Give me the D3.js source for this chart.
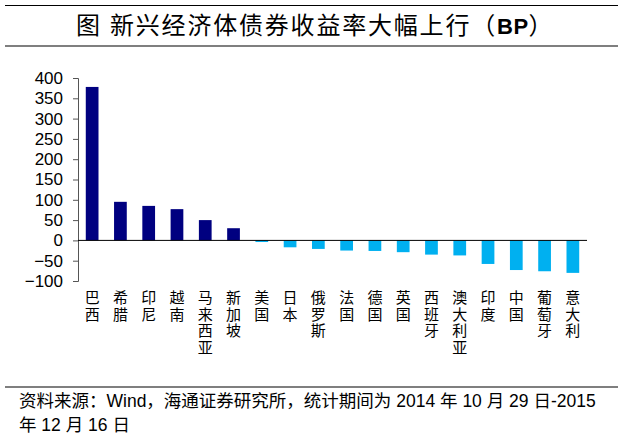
<!DOCTYPE html>
<html>
<head>
<meta charset="utf-8">
<script src="https://cdn.jsdelivr.net/npm/d3@7"></script>
<style>
  html, body { margin: 0; padding: 0; background: #fff; }
  svg { display: block; }
</style>
</head>
<body>
<svg id="chart" width="625" height="437"></svg>
<script>
const titleLead = "图";
const titleMain = "新兴经济体债券收益率大幅上行（";
const titleUnit = "BP";
const titleTail = "）";
const categories = ["巴西","希腊","印尼","越南","马来西亚","新加坡","美国","日本","俄罗斯","法国","德国","英国","西班牙","澳大利亚","印度","中国","葡萄牙","意大利"];
const values = [378, 95, 85, 77, 50, 30, -4, -17, -21, -25, -26, -29, -35, -37, -58, -73, -76, -80];
const yTicks = [-100, -50, 0, 50, 100, 150, 200, 250, 300, 350, 400];
const footLine1 = "资料来源：Wind，海通证券研究所，统计期间为 2014 年 10 月 29 日-2015";
const footLine2 = "年 12 月 16 日";

const svg = d3.select("#chart");
const FONT = "'Liberation Sans', Arial, 'Noto Sans CJK SC', sans-serif";
const CJK = "'Noto Sans CJK SC', 'Liberation Sans', sans-serif";

// Title rules
svg.append("line").attr("x1", 5).attr("x2", 618).attr("y1", 5.5).attr("y2", 5.5)
  .attr("stroke", "#000").attr("stroke-width", 1.2);
svg.append("line").attr("x1", 5).attr("x2", 618).attr("y1", 46).attr("y2", 46)
  .attr("stroke", "#000").attr("stroke-width", 1.2);

svg.append("text").attr("x", 76).attr("y", 34).attr("font-family", CJK)
  .attr("font-size", 24).attr("fill", "#000").text(titleLead);
const t = svg.append("text").attr("x", 110).attr("y", 34).attr("font-family", CJK)
  .attr("font-size", 24).attr("fill", "#000").attr("letter-spacing", 1.8);
t.append("tspan").text(titleMain);
t.append("tspan").attr("font-family", FONT).attr("font-weight", "bold").attr("font-size", 22).attr("letter-spacing", 0.5).text(titleUnit);
t.append("tspan").text(titleTail);

// Scales
const x = d3.scaleBand().domain(categories).range([78, 587]).paddingInner(0.55).paddingOuter(0.275);
const y = d3.scaleLinear().domain([-100, 400]).range([281, 78]);

// Y axis
const yAxis = d3.axisLeft(y).tickValues(yTicks).tickSize(5).tickPadding(10).tickFormat(d3.format("d"));
const gy = svg.append("g").attr("transform", "translate(78,0)").call(yAxis);
gy.select(".domain").attr("stroke", "#555");
gy.selectAll(".tick line").attr("stroke", "#555");
gy.selectAll(".tick text").attr("font-family", FONT).attr("font-size", 17).attr("fill", "#000");

// Bars
svg.append("g").selectAll("rect").data(categories).join("rect")
  .attr("x", d => x(d))
  .attr("width", x.bandwidth())
  .attr("y", (d, i) => y(Math.max(0, values[i])))
  .attr("height", (d, i) => Math.abs(y(values[i]) - y(0)))
  .attr("fill", (d, i) => values[i] >= 0 ? "#000080" : "#00B0F0");

// X axis line at zero
svg.append("line").attr("x1", 78).attr("x2", 587).attr("y1", y(0)).attr("y2", y(0))
  .attr("stroke", "#000").attr("stroke-width", 1);

// Vertical category labels (one text per label, vertical writing mode)
svg.append("g").selectAll("text").data(categories).join("text")
  .attr("x", d => x(d) + x.bandwidth() / 2)
  .attr("y", 290)
  .style("writing-mode", "vertical-rl")
  .style("text-orientation", "upright")
  .attr("letter-spacing", 1.5)
  .attr("font-family", CJK).attr("font-size", 15).attr("fill", "#000")
  .text(d => d);

// Footer
svg.append("line").attr("x1", 5).attr("x2", 618).attr("y1", 387).attr("y2", 387)
  .attr("stroke", "#000").attr("stroke-width", 1.2);
svg.append("text").attr("x", 19).attr("y", 407).attr("font-family", FONT)
  .attr("font-size", 17.5).attr("fill", "#000").text(footLine1);
svg.append("text").attr("x", 19).attr("y", 431).attr("font-family", FONT)
  .attr("font-size", 17.5).attr("fill", "#000").text(footLine2);
</script>
</body>
</html>
